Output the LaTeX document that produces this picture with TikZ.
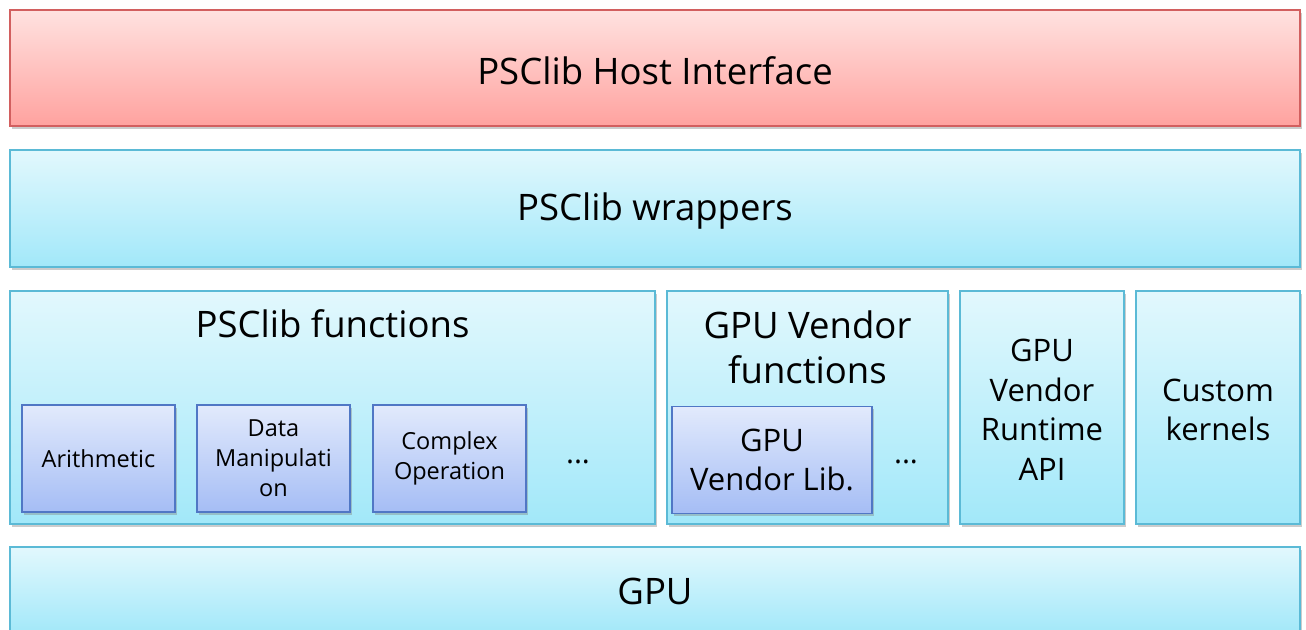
\documentclass[tikz,border=0pt]{standalone}
\usepackage{fontspec}
\setmainfont{Open Sans}
\usetikzlibrary{shadows}
\definecolor{redtop}{HTML}{FFE2E0}
\definecolor{redbot}{HTML}{FFA29F}
\definecolor{redline}{HTML}{D25F5F}
\definecolor{bluetop}{HTML}{E2F8FD}
\definecolor{bluebot}{HTML}{A2E8F9}
\definecolor{blueline}{HTML}{5BBAD6}
\definecolor{intop}{HTML}{E2EAFC}
\definecolor{inbot}{HTML}{A5BDF5}
\definecolor{inline}{HTML}{5077C5}
\tikzset{
  layer/.style={rectangle, inner sep=0pt, outer sep=0pt, line width=1.5pt,
    drop shadow={shadow xshift=1.5pt, shadow yshift=-2.5pt, opacity=0.4},
    align=center, text=black},
  redbox/.style={layer, draw=redline, top color=redtop, bottom color=redbot},
  bluebox/.style={layer, draw=blueline, top color=bluetop, bottom color=bluebot},
  innerbox/.style={layer, line width=1.2pt, draw=inline, top color=intop, bottom color=inbot},
  bigtext/.style={font=\fontsize{36.5}{45}\selectfont},
  midtext/.style={font=\fontsize{31}{39.5}\selectfont},
  smalltext/.style={font=\fontsize{23.5}{30}\selectfont},
  dotstext/.style={font=\fontsize{30}{30}\selectfont},
  plain/.style={inner sep=0pt, align=center}
}
\begin{document}
\begin{tikzpicture}[x=1pt, y=-1pt]
\useasboundingbox (0,0) rectangle (1306,629);
\clip (0,0) rectangle (1306,629);
\node[redbox, minimum width=1290pt, minimum height=116pt] (host) at (655,68) {};
\node[bluebox, minimum width=1290pt, minimum height=117pt] (wrap) at (655,208.5) {};
\node[bluebox, minimum width=645pt, minimum height=233pt] (funcs) at (332.5,407.5) {};
\node[bluebox, minimum width=281pt, minimum height=233pt] (vfuncs) at (807.5,407.5) {};
\node[bluebox, minimum width=164pt, minimum height=233pt] (rt) at (1042,407.5) {};
\node[bluebox, minimum width=164pt, minimum height=233pt] (ck) at (1218,407.5) {};
\node[bluebox, minimum width=1290pt, minimum height=87pt] (gpu) at (655,590.5) {};
\node[plain, bigtext] (hostT) at (655,71) {PSClib Host Interface};
\node[plain, bigtext] (wrapT) at (655,211) {PSClib wrappers};
\node[plain, bigtext] (gpuT) at (655,591) {GPU};
\node[plain, midtext] (rtT) at (1042,410) {GPU\\Vendor\\Runtime\\API};
\node[plain, midtext] (ckT) at (1218,410) {Custom\\kernels};
\node[plain, bigtext] (funcsT) at (332.5,324) {PSClib functions};
\node[plain, bigtext] (vfuncsT) at (807.5,347) {GPU Vendor\\functions};
\node[innerbox, smalltext, minimum width=153pt, minimum height=107pt] (arith) at (98.5,458.5) {Arithmetic};
\node[innerbox, smalltext, minimum width=153pt, minimum height=107pt] (data) at (273.5,458.5) {Data\\Manipulati\\on};
\node[innerbox, smalltext, minimum width=153pt, minimum height=107pt] (cplx) at (449.5,458.5) {Complex\\Operation};
\node[plain, dotstext] (dots1) at (578,462) {...};
\node[innerbox, midtext, minimum width=200pt, minimum height=107pt] (vlib) at (772,460) {GPU\\Vendor Lib.};
\node[plain, dotstext] (dots2) at (906,462) {...};
\end{tikzpicture}
\end{document}
